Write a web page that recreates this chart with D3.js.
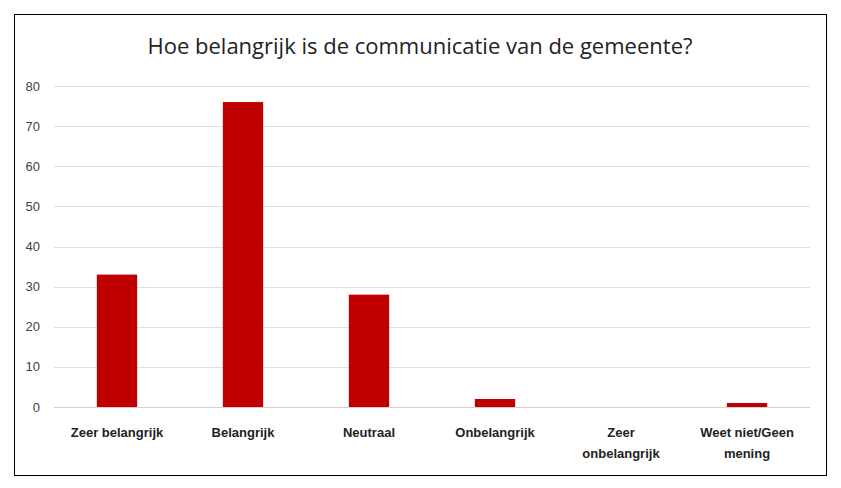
<!DOCTYPE html>
<html><head><meta charset="utf-8">
<script src="https://cdn.jsdelivr.net/npm/d3@7"></script>
<style>body{margin:0;background:#fff}</style></head>
<body><svg id="c" width="841" height="488"></svg>
<script>
const categories = ["Zeer belangrijk","Belangrijk","Neutraal","Onbelangrijk","Zeer onbelangrijk","Weet niet/Geen mening"];
const labelLines = [["Zeer belangrijk"],["Belangrijk"],["Neutraal"],["Onbelangrijk"],["Zeer","onbelangrijk"],["Weet niet/Geen","mening"]];
const values = [33,76,28,2,0,1];
const yTicks = [0,10,20,30,40,50,60,70,80];

const svg = d3.select("#c");
svg.append("rect").attr("x",14.5).attr("y",14.5).attr("width",812).attr("height",461)
  .attr("fill","#fff").attr("stroke","#000").attr("stroke-width",1);
svg.append("text").attr("x",420).attr("y",54).attr("text-anchor","middle")
  .attr("font-family","Open Sans, sans-serif").attr("font-size",22).attr("fill","#222")
  .text("Hoe belangrijk is de communicatie van de gemeente?");

const x = d3.scaleBand().domain(categories).range([54,810]).paddingInner(0.68).paddingOuter(0.34);
const y = d3.scaleLinear().domain([0,80]).range([407,86]);

const grid = svg.append("g");
yTicks.forEach(t=>{
  grid.append("line").attr("x1",54).attr("x2",810).attr("y1",Math.round(y(t))+0.5).attr("y2",Math.round(y(t))+0.5)
    .attr("stroke", t===0?"#d0d0d0":"#e0e0e0");
  grid.append("text").attr("x",40).attr("y",y(t)+4.5).attr("text-anchor","end")
    .attr("font-family","Liberation Sans, Arial, sans-serif").attr("font-size",13).attr("fill","#444").text(t);
});

svg.selectAll(".bar").data(values).enter().append("rect")
  .attr("x",(d,i)=>x(categories[i])).attr("width",x.bandwidth())
  .attr("y",d=>y(d)).attr("height",d=>y(0)-y(d)).attr("fill","#c00000");

labelLines.forEach((lines,i)=>{
  const cx = x(categories[i])+x.bandwidth()/2;
  const t = svg.append("text").attr("text-anchor","middle")
    .attr("font-family","Liberation Sans, Arial, sans-serif").attr("font-size",13).attr("font-weight","bold").attr("fill","#222");
  lines.forEach((l,j)=>t.append("tspan").attr("x",cx).attr("y",437+j*21).text(l));
});
</script></body></html>
